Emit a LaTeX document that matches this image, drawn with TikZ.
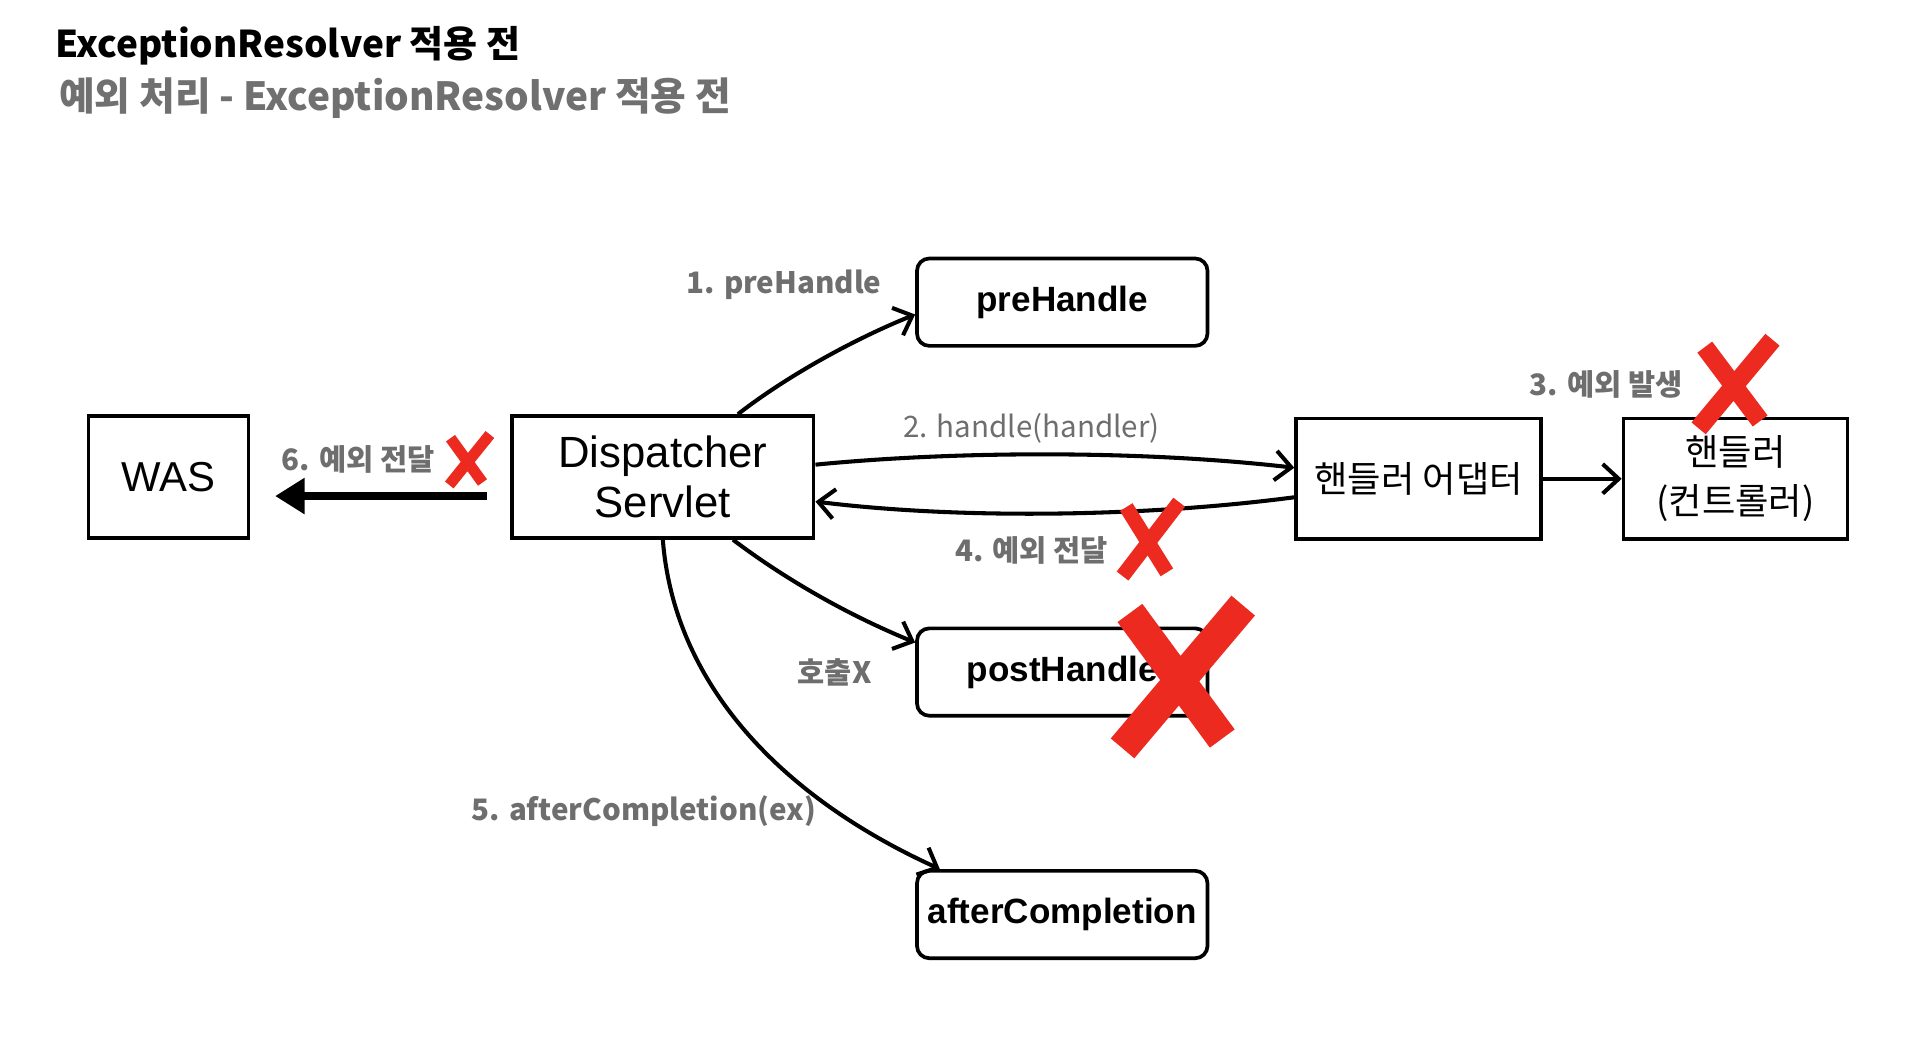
\documentclass[tikz,border=0pt]{standalone}
\usepackage{fontspec}
\setmainfont{Liberation Sans}
\newfontfamily\kr{Noto Sans CJK KR}
\usetikzlibrary{arrows.meta,calc}
\definecolor{lbl}{HTML}{6E6E6E}
\definecolor{ttl}{HTML}{707070}
\definecolor{xred}{HTML}{EC2A1F}
\begin{document}
\begin{tikzpicture}[x=1pt,y=-1pt,
  box/.style={draw, line width=3pt, inner sep=0pt, align=center},
  rbox/.style={draw, line width=3pt, rounded corners=10pt, minimum width=236pt, minimum height=71pt, inner sep=0pt, font=\fontsize{28.5}{30}\selectfont\bfseries},
  lab/.style={text=lbl, font=\kr\bfseries\fontsize{24}{26}\selectfont, inner sep=0pt},
  flow/.style={line width=3.3pt, -{Straight Barb[length=13pt,width=24pt]}},
  xmark/.style={xred, line width=#1, line cap=butt},
]
\fill[white] (0,0) rectangle (1568,843);
\useasboundingbox (0,0) rectangle (1568,843);

% titles
\node[anchor=west, inner sep=0pt, font=\kr\bfseries\fontsize{30}{32}\selectfont] (t1) at (45,37) {ExceptionResolver 적용 전};
\node[anchor=west, inner sep=0pt, text=ttl, font=\kr\bfseries\fontsize{31.5}{33}\selectfont] (t2) at (48,80) {예외 처리 - ExceptionResolver 적용 전};

% boxes
\node[box, minimum width=130pt, minimum height=99pt, font=\fontsize{34}{36}\selectfont] (was) at (137,387.5) {WAS};
\node[box, minimum width=245pt, minimum height=99pt, font=\fontsize{35.5}{40}\selectfont] (ds) at (538.5,387.5) {Dispatcher\\Servlet};
\node[box, minimum width=199pt, minimum height=98pt, font=\kr\fontsize{29.5}{30}\selectfont] (ad) at (1152.5,389) {핸들러 어댑터};
\node[box, minimum width=182pt, minimum height=98pt, font=\kr\fontsize{29.5}{40}\selectfont] (hd) at (1410,389) {핸들러\\(컨트롤러)};

\node[rbox] (pre) at (863,245.5) {preHandle};
\node[rbox] (post) at (863,546) {postHandle};
\node[rbox] (after) at (863,743) {afterCompletion};

% labels
\node[lab] (l1) at (637,231) {1. preHandle};
\node[lab, font=\kr\fontsize{24}{26}\selectfont] (l2) at (838,348) {2. handle(handler)};
\node[lab] (l3) at (1305,312) {3. 예외 발생};
\node[lab] (l4) at (838,447) {4. 예외 전달};
\node[lab] (l5) at (523,659) {5. afterCompletion(ex)};
\node[lab] (l6) at (291,373) {6. 예외 전달};
\node[lab] (lx) at (678,546) {호출X};

% connectors
\draw[flow] ([xshift=61pt]ds.north) .. controls (640,305) and (695,275) .. ([yshift=-10pt]pre.west);
\draw[flow] ([yshift=10pt]ds.east) .. controls (780,366) and (930,366) .. ([yshift=9pt]ad.west);
\draw[flow] ([yshift=-15pt]ad.west) .. controls (930,420) and (780,422) .. ([yshift=-20pt]ds.east);
\draw[flow] (ad) -- (hd);
\draw[flow] ([xshift=57pt]ds.south) .. controls (640,472) and (690,500) .. ([yshift=24pt]post.west);
\draw[flow] (ds.south) .. controls (548,560) and (640,650) .. ([xshift=20pt]after.north west);
\draw[line width=6pt, -{Triangle[length=24pt,width=28pt]}] ([xshift=-19pt,yshift=-15.5pt]ds.west) -- ([xshift=20pt,yshift=-15.5pt]was.east);

% red crosses
\draw[xmark=9pt] (366,356) -- (392,392) (398,353) -- (365,394);
\draw[xmark=12pt] (915,412) -- (948,465) (958,408) -- (912,468);
\draw[xmark=15pt] (1385,282) -- (1430,342) (1440,276) -- (1380,348);
\draw[xmark=25pt] (918,498) -- (993,600) (1010,492) -- (912,608);
\end{tikzpicture}
\end{document}
